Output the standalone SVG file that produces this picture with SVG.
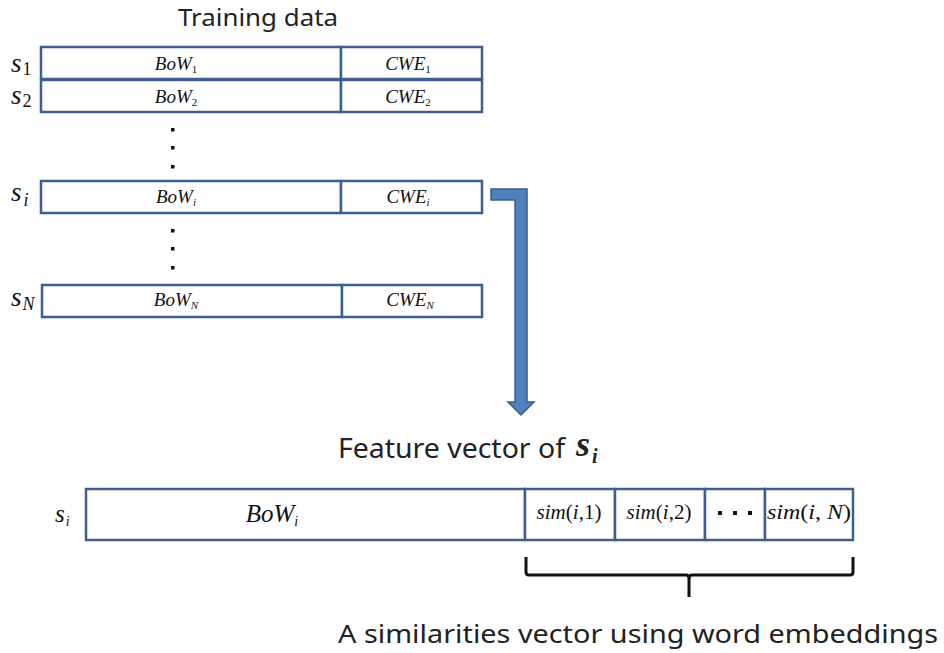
<svg xmlns="http://www.w3.org/2000/svg" width="944" height="653" viewBox="0 0 944 653">
<style>
.cell{fill:#fff;stroke:#3d5f8f;stroke-width:2.5}
.m{font-family:"Liberation Serif",serif;font-style:italic;fill:#111}
.c{font-size:19px;text-anchor:middle}
.sub{font-size:11px}
.lab{font-size:27px}
.lsub{font-size:18px}
.t{font-family:"Noto Sans","Open Sans",sans-serif;fill:#222}
.dot{fill:#111}
.sim{font-family:"Liberation Serif",serif;font-size:21px;fill:#111;text-anchor:middle}
</style>
<rect width="944" height="653" fill="#fff"/>
<text class="t" x="258" y="26" font-size="24" text-anchor="middle" textLength="160" lengthAdjust="spacingAndGlyphs">Training data</text>

<g id="row1">
<rect class="cell" x="41" y="47" width="300" height="32"/>
<rect class="cell" x="341" y="47" width="141" height="32"/>
<text class="m lab" x="11" y="72">s<tspan class="lsub" dx="1" dy="3" font-style="normal">1</tspan></text>
<text class="m c" x="176" y="70">BoW<tspan class="sub" dy="3" font-style="normal">1</tspan></text>
<text class="m c" x="408" y="70">CWE<tspan class="sub" dy="3" font-style="normal">1</tspan></text>
</g>
<g id="row2">
<rect class="cell" x="41" y="80" width="300" height="32"/>
<rect class="cell" x="341" y="80" width="141" height="32"/>
<text class="m lab" x="11" y="104">s<tspan class="lsub" dx="1" dy="3" font-style="normal">2</tspan></text>
<text class="m c" x="176" y="103">BoW<tspan class="sub" dy="3" font-style="normal">2</tspan></text>
<text class="m c" x="408" y="103">CWE<tspan class="sub" dy="3" font-style="normal">2</tspan></text>
</g>
<g id="dots1">
<rect class="dot" x="171" y="128" width="3.5" height="3.5"/>
<rect class="dot" x="171" y="146" width="3.5" height="3.5"/>
<rect class="dot" x="171" y="165" width="3.5" height="3.5"/>
</g>
<g id="rowi">
<rect class="cell" x="41" y="181" width="300" height="32"/>
<rect class="cell" x="341" y="181" width="141" height="32"/>
<text class="m lab" x="11" y="201">s<tspan class="lsub" dx="2" dy="5">i</tspan></text>
<text class="m c" x="176" y="203">BoW<tspan class="sub" dy="3">i</tspan></text>
<text class="m c" x="408" y="203">CWE<tspan class="sub" dy="3">i</tspan></text>
</g>
<g id="dots2">
<rect class="dot" x="171" y="229" width="3.5" height="3.5"/>
<rect class="dot" x="171" y="247" width="3.5" height="3.5"/>
<rect class="dot" x="171" y="266" width="3.5" height="3.5"/>
</g>
<g id="rowN">
<rect class="cell" x="42" y="285" width="300" height="32"/>
<rect class="cell" x="342" y="285" width="140" height="32"/>
<text class="m lab" x="11" y="306">s<tspan class="lsub" dx="1" dy="4">N</tspan></text>
<text class="m c" x="176" y="306">BoW<tspan class="sub" dy="3">N</tspan></text>
<text class="m c" x="410" y="306">CWE<tspan class="sub" dy="3">N</tspan></text>
</g>

<g id="connectors">
<path d="M491,189 H527 V402 H534 L521,415 L508,402 H515 V200 H491 Z" fill="#4f81bd" stroke="#385d8a" stroke-width="1.5" stroke-linejoin="miter"/>
</g>

<g id="title2">
<text class="t" x="338" y="458" font-size="27" textLength="227" lengthAdjust="spacingAndGlyphs">Feature vector of</text>
<text x="576" y="456" font-family="Liberation Serif,serif" font-style="italic" font-weight="bold" font-size="36" fill="#222">s<tspan dx="2" dy="7" font-size="20">i</tspan></text>
</g>

<g id="feature">
<text class="m" x="55" y="522" font-size="25">s<tspan dx="1" dy="4" font-size="14">i</tspan></text>
<rect class="cell" x="86" y="489" width="439" height="51"/>
<rect class="cell" x="525" y="489" width="90" height="51"/>
<rect class="cell" x="615" y="489" width="90" height="51"/>
<rect class="cell" x="705" y="489" width="60" height="51"/>
<rect class="cell" x="765" y="489" width="88" height="51"/>
<text class="m" x="272" y="522" font-size="25" text-anchor="middle">BoW<tspan dy="4" font-size="14">i</tspan></text>
<text class="sim" x="569" y="519"><tspan font-style="italic">sim</tspan>(<tspan font-style="italic">i</tspan>,1)</text>
<text class="sim" x="659" y="519"><tspan font-style="italic">sim</tspan>(<tspan font-style="italic">i</tspan>,2)</text>
<rect class="dot" x="718" y="511" width="4" height="4"/>
<rect class="dot" x="733" y="511" width="4" height="4"/>
<rect class="dot" x="748" y="511" width="4" height="4"/>
<text class="sim" x="809" y="519" textLength="84" lengthAdjust="spacingAndGlyphs"><tspan font-style="italic">sim</tspan>(<tspan font-style="italic">i</tspan>, <tspan font-style="italic">N</tspan>)</text>
</g>

<g id="brace">
<path d="M526,557 V572 Q526,575 529,575 H686 Q689,575 689,579 V597 M689,579 Q689,575 692,575 H850 Q853,575 853,572 V557" fill="none" stroke="#111" stroke-width="3"/>
</g>
<text class="t" x="338" y="643" font-size="26" textLength="600" lengthAdjust="spacingAndGlyphs">A similarities vector using word embeddings</text>
</svg>
